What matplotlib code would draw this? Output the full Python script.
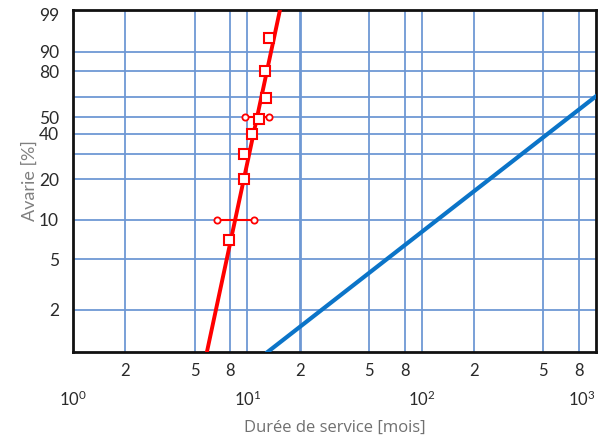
import numpy as np
import matplotlib
matplotlib.use("Agg")
import matplotlib.pyplot as plt
from matplotlib.ticker import FixedLocator, FixedFormatter

plt.rcParams['font.family'] = ['Lato', 'DejaVu Sans']
plt.rcParams['mathtext.default'] = 'regular'

# observed failures (months, cumulative failure fraction)
obs_t = [13.3, 12.7, 12.76, 11.67, 10.6, 9.61, 9.61, 7.85]
obs_F = [0.95, 0.80, 0.63, 0.49, 0.40, 0.30, 0.20, 0.07]

# horizontal confidence bars
err_F = [0.50, 0.10]
err_lo = [9.70, 6.73]
err_hi = [13.3, 10.93]

# fitted lines (two points each, straight on Weibull paper)
red_fit_t = [5.87, 15.4]
red_fit_F = [0.0093, 0.993]
blue_fit_t = [13.1, 1000]
blue_fit_F = [0.0093, 0.639]

y_ticks = [0.02, 0.05, 0.10, 0.20, 0.40, 0.50, 0.80, 0.90, 0.99]
y_labels = ["2", "5", "10", "20", "40", "50", "80", "90", "99"]
y_grid = [0.02, 0.05, 0.10, 0.20, 0.30, 0.40, 0.50, 0.632, 0.80, 0.90]
x_major = [1, 10, 100, 1000]
x_major_labels = ["$10^0$", "$10^1$", "$10^2$", "$10^3$"]
x_minor = [2, 5, 8, 20, 50, 80, 200, 500, 800]
x_minor_labels = ["2", "5", "8", "2", "5", "8", "2", "5", "8"]
x_grid = [2, 5, 8, 10, 20, 50, 80, 100, 200, 500, 800]


def weib(f):
    f = np.clip(np.asarray(f, dtype=float), 1e-9, 1 - 1e-12)
    return np.log(-np.log(1 - f))


def weib_inv(w):
    return 1 - np.exp(-np.exp(w))


fig = plt.figure(figsize=(6.08, 4.41), dpi=100)
ax = fig.add_axes([0.120, 0.202, 0.860, 0.775])
ax.set_xscale('log')
ax.set_yscale('function', functions=(weib, weib_inv))
ax.set_xlim(1, 1000)
ax.set_ylim(0.0093, 0.993)

gcol = '#6e98d4'
for v in x_grid:
    ax.axvline(v, color=gcol, lw=2.0 if v == 20 else 1.3, zorder=1)
for v in y_grid:
    ax.axhline(v, color=gcol, lw=1.3, zorder=1)

ax.plot(blue_fit_t, blue_fit_F, color='#0b74c8', lw=3, zorder=3)
ax.plot(red_fit_t, red_fit_F, color='#ff0000', lw=2.8, zorder=3)
for f, lo, hi in zip(err_F, err_lo, err_hi):
    ax.plot([lo, hi], [f, f], color='#ff0000', lw=1.5, marker='o', ms=4.5,
            mfc='white', mec='#ff0000', mew=1.3, zorder=4)
ax.plot(obs_t, obs_F, ls='none', marker='s', ms=7, mfc='white',
        mec='#ff0000', mew=1.5, zorder=5)

ax.yaxis.set_major_locator(FixedLocator(y_ticks))
ax.yaxis.set_major_formatter(FixedFormatter(y_labels))
ax.yaxis.set_minor_locator(FixedLocator([]))
ax.xaxis.set_major_locator(FixedLocator(x_major))
ax.xaxis.set_major_formatter(FixedFormatter(x_major_labels))
ax.xaxis.set_minor_locator(FixedLocator(x_minor))
ax.xaxis.set_minor_formatter(FixedFormatter(x_minor_labels))

ax.tick_params(axis='y', length=0, pad=10, labelsize=12.5, labelcolor='#2a2a2a')
ax.tick_params(axis='x', which='major', length=0, pad=27, labelsize=12, labelcolor='#2a2a2a')
ax.tick_params(axis='x', which='minor', length=0, pad=8, labelsize=12, labelcolor='#2a2a2a')

fig.canvas.draw()
ax.get_xticklabels()[-1].set_horizontalalignment('right')

for s in ax.spines.values():
    s.set_linewidth(2)
    s.set_color('#111111')

ax.set_xlabel("Durée de service [mois]", color='#707070', fontsize=12,
              family=['Open Sans', 'DejaVu Sans'], labelpad=8)
ax.set_ylabel("Avarie [%]", color='#808080', fontsize=13, labelpad=1)

fig.savefig("out.png", dpi=100)
